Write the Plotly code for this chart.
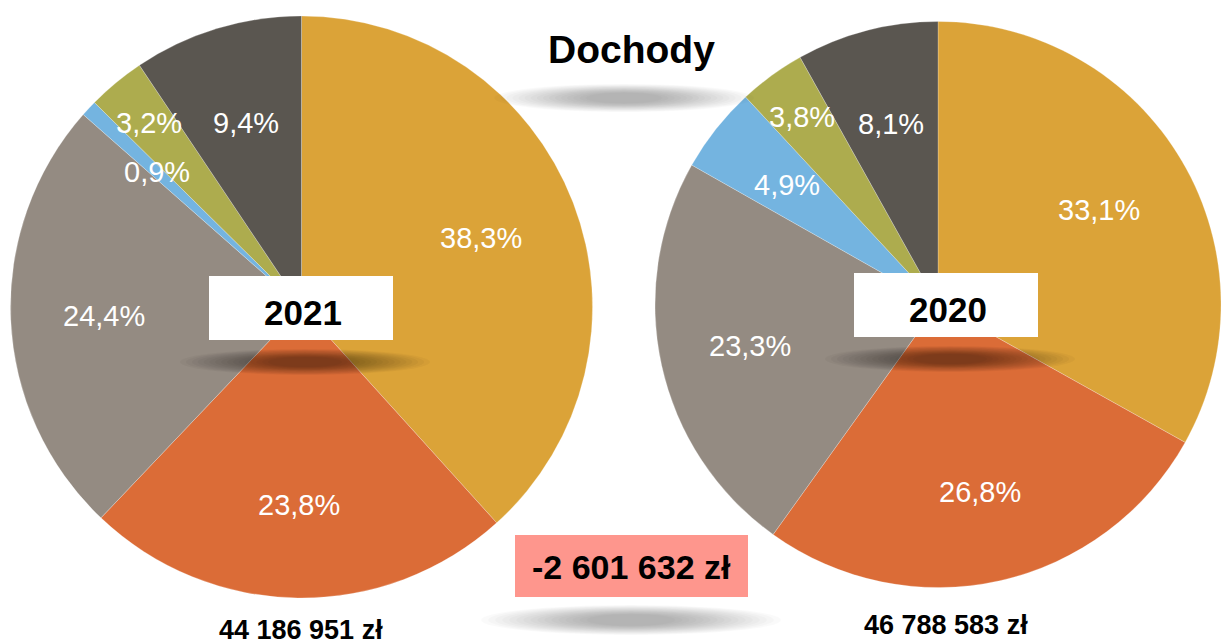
import math
import plotly.graph_objects as go

# okno 1229x644, body ma margines 8 px - widoczny obszar figury to 1213x636
OFF = 8
W, H = 1229 - 2 * OFF, 644 - OFF

# Dane
POZYCJE = ["Pozycja 1", "Pozycja 2", "Pozycja 3", "Pozycja 4", "Pozycja 5", "Pozycja 6"]
UDZIALY_2021 = [38.3, 23.8, 24.4, 0.9, 3.2, 9.4]
UDZIALY_2020 = [33.1, 26.8, 23.3, 4.9, 3.8, 8.1]
LATA = ["2021", "2020"]
SUMY = ["44 186 951 zł", "46 788 583 zł"]
ROZNICA = "-2 601 632 zł"
TYTUL = "Dochody"

KOLORY = ["#dba338", "#db6c37", "#948b82", "#74b4e0", "#adac4e", "#5a5650"]
# odsuniecie etykiety od srodka (ulamek promienia), male wycinki dalej
R_ETYKIETY = [0.66, 0.68, 0.68, 0.68, 0.82, 0.66]

FONT = "Liberation Sans, Arial, Helvetica, sans-serif"

# geometria kol w pikselach okna: (srodek x, srodek y od gory, promien)
KOLA = [(301.5, 307, 291), (938, 304.5, 283)]
# srodki prostokatow z rokiem i sum pod kolami (x, y okna)
ROK_XY = [(301, 308), (946, 305)]
SUMA_XY = [(301, 630), (946, 625)]


def px_x(x):
    return (x - OFF) / W


def px_y(y):
    return 1 - (y - OFF) / H


def napis(fig, x, y, tekst, size, color="black", bold=True):
    fig.add_annotation(
        x=px_x(x), y=px_y(y), xref="paper", yref="paper",
        xanchor="center", yanchor="middle", showarrow=False,
        text=f"<b>{tekst}</b>" if bold else tekst,
        font=dict(family=FONT, size=size, color=color),
    )


def prostokat(fig, x0, y0, x1, y1, kolor):
    fig.add_shape(
        type="rect", xref="paper", yref="paper",
        x0=px_x(x0), x1=px_x(x1), y0=px_y(y1), y1=px_y(y0),
        fillcolor=kolor, line_width=0, layer="above",
    )


def cien(fig, cx, cy, w, h, warstwy=16, alfa=0.028):
    # rozmyty cien z nakladanych elips
    for k in range(warstwy):
        s = 1 - k / warstwy
        hw = w / 2 * (0.25 + 0.75 * s)
        hh = h / 2 * (0.35 + 0.65 * s)
        fig.add_shape(
            type="circle", xref="paper", yref="paper",
            x0=px_x(cx - hw), x1=px_x(cx + hw),
            y0=px_y(cy + hh), y1=px_y(cy - hh),
            fillcolor=f"rgba(0,0,0,{alfa})", line_width=0, layer="above",
        )


fig = go.Figure()

for (cx, cy, r), udzialy in zip(KOLA, [UDZIALY_2021, UDZIALY_2020]):
    fig.add_trace(go.Pie(
        labels=POZYCJE,
        values=udzialy,
        sort=False,
        direction="clockwise",
        rotation=0,
        marker=dict(colors=KOLORY, line=dict(color="rgba(255,255,255,0.4)", width=0.6)),
        textinfo="none",
        hoverinfo="label+percent",
        domain=dict(x=[px_x(cx - r), px_x(cx + r)], y=[px_y(cy + r), px_y(cy - r)]),
        showlegend=False,
    ))

    # etykiety procentowe w srodkach wycinkow
    suma_u = sum(udzialy)
    narast = 0.0
    for i, u in enumerate(udzialy):
        kat = 2 * math.pi * (narast + u / 2) / suma_u
        narast += u
        rr = R_ETYKIETY[i] * r
        napis(fig, cx + rr * math.sin(kat), cy - rr * math.cos(kat),
              f"{u:.1f}".replace(".", ",") + "%", 29, color="white", bold=False)

for (bx, by), (sx, sy), rok, suma in zip(ROK_XY, SUMA_XY, LATA, SUMY):
    # cien i bialy prostokat z rokiem
    cien(fig, bx + 4, by + 54, 250, 26, alfa=0.03)
    prostokat(fig, bx - 92, by - 32, bx + 92, by + 32, "white")
    napis(fig, bx + 2, by + 4, rok, 35)
    napis(fig, sx, sy, suma, 27)

# tytul
cien(fig, 624, 98, 260, 28, alfa=0.02)
napis(fig, 631, 50, TYTUL, 39)

# roznica
cien(fig, 631, 620, 300, 30, alfa=0.02)
prostokat(fig, 515, 535, 748, 597, "#fe968d")
napis(fig, 631, 567, ROZNICA, 34)

fig.update_layout(
    width=W, height=H,
    margin=dict(l=0, r=0, t=0, b=0),
    paper_bgcolor="white",
    plot_bgcolor="white",
    showlegend=False,
)

fig.write_html("out.html")
